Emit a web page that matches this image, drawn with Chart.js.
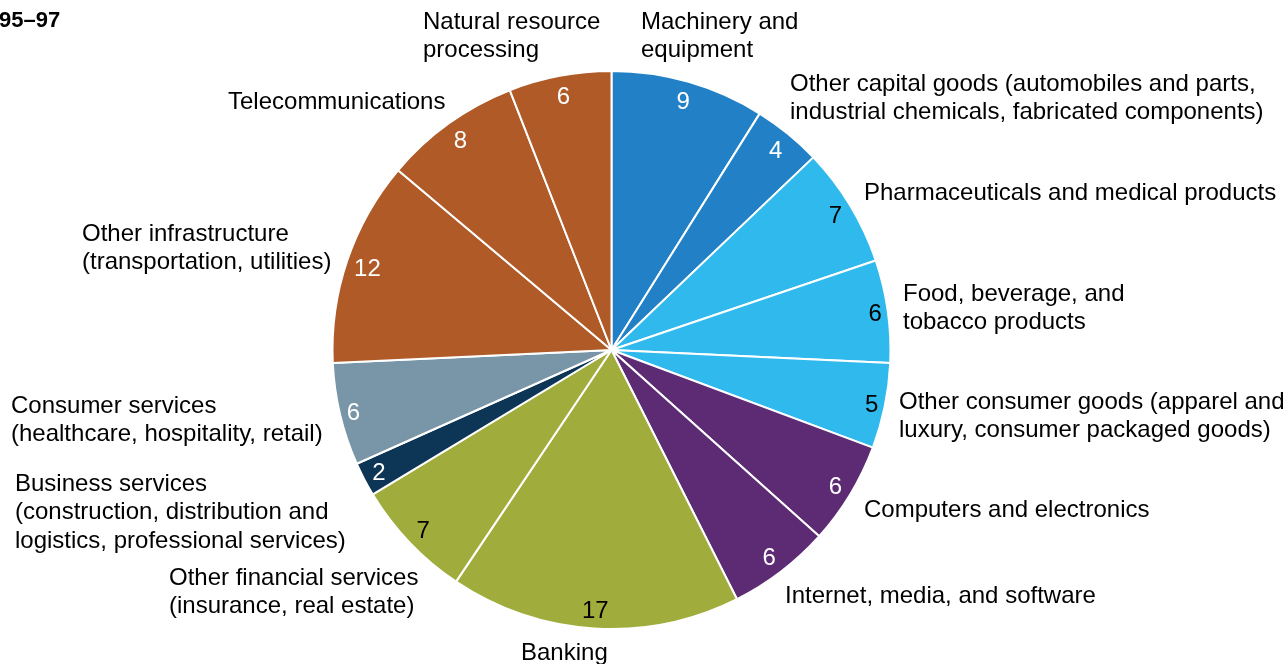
<!DOCTYPE html>
<html>
<head>
<meta charset="utf-8">
<script src="https://cdn.jsdelivr.net/npm/chart.js@4/dist/chart.umd.min.js"></script>
<style>
  html, body { margin: 0; padding: 0; background: #fff; overflow: hidden; }
  #wrap { position: relative; width: 1287px; height: 664px; }
</style>
</head>
<body>
<div id="wrap"><canvas id="pie"></canvas></div>
<script>
// Slices, clockwise from 12 o'clock
const sectors = [
    'Machinery and equipment',
    'Other capital goods (automobiles and parts, industrial chemicals, fabricated components)',
    'Pharmaceuticals and medical products',
    'Food, beverage, and tobacco products',
    'Other consumer goods (apparel and luxury, consumer packaged goods)',
    'Computers and electronics',
    'Internet, media, and software',
    'Banking',
    'Other financial services (insurance, real estate)',
    'Business services (construction, distribution and logistics, professional services)',
    'Consumer services (healthcare, hospitality, retail)',
    'Other infrastructure (transportation, utilities)',
    'Telecommunications',
    'Natural resource processing'
];
const shares = [9, 4, 7, 6, 5, 6, 6, 17, 7, 2, 6, 12, 8, 6];
const title = '95\u201397';

// Line breaks for the outer labels, as printed
const labelLines = [
    ['Machinery and', 'equipment'],
    ['Other capital goods (automobiles and parts,', 'industrial chemicals, fabricated components)'],
    ['Pharmaceuticals and medical products'],
    ['Food, beverage, and', 'tobacco products'],
    ['Other consumer goods (apparel and', 'luxury, consumer packaged goods)'],
    ['Computers and electronics'],
    ['Internet, media, and software'],
    ['Banking'],
    ['Other financial services', '(insurance, real estate)'],
    ['Business services', '(construction, distribution and', 'logistics, professional services)'],
    ['Consumer services', '(healthcare, hospitality, retail)'],
    ['Other infrastructure', '(transportation, utilities)'],
    ['Telecommunications'],
    ['Natural resource', 'processing']
];

// Layout: left x and first-line middle y of each outer label block
const labelPos = [
    [641, 22], [790, 84], [864, 193], [903, 294], [899, 402], [864, 510], [785, 596],
    [521, 653], [169, 578], [15, 484], [11, 406], [82, 234], [228, 102], [423, 22]
];

const BLUE = '#2180c6', SKY = '#2fb9ec', PURPLE = '#5d2a74', OLIVE = '#a0ad3c',
      NAVY = '#0d3556', SLATE = '#7896a8', RUST = '#af5a27';
const colors = [BLUE, BLUE, SKY, SKY, SKY, PURPLE, PURPLE, OLIVE, OLIVE, NAVY, SLATE, RUST, RUST, RUST];
const valueColors = ['#fff', '#fff', '#000', '#000', '#000', '#fff', '#fff', '#000', '#000', '#fff', '#fff', '#fff', '#fff', '#fff'];

const FONT = 'Arial, "Liberation Sans", sans-serif';

const labelPlugin = {
    id: 'sliceLabels',
    afterDatasetsDraw(chart) {
        const ctx = chart.ctx;
        const arcs = chart.getDatasetMeta(0).data;
        ctx.save();
        ctx.font = '24px ' + FONT;
        ctx.textAlign = 'center';
        ctx.textBaseline = 'middle';
        arcs.forEach((arc, i) => {
            const p = arc.getProps(['x', 'y', 'startAngle', 'endAngle', 'outerRadius'], true);
            const mid = (p.startAngle + p.endAngle) / 2;
            const txt = String(shares[i]);
            const dx = Math.cos(mid), dy = Math.sin(mid);
            // "inside end": pull the label box in until it touches the rim
            const w = ctx.measureText(txt).width;
            const r = p.outerRadius - 4 - (Math.abs(dx) * w / 2 + Math.abs(dy) * 14.5);
            ctx.fillStyle = valueColors[i];
            // +2 so the digits sit visually centred on the point
            ctx.fillText(txt, p.x + dx * r, p.y + dy * r + 2);
        });

        // outer category labels
        ctx.textAlign = 'left';
        ctx.fillStyle = '#000';
        labelLines.forEach((lines, i) => {
            const [lx, ly] = labelPos[i];
            lines.forEach((ln, k) => ctx.fillText(ln, lx, ly + k * 28.5));
        });

        // cropped heading
        ctx.font = 'bold 22px ' + FONT;
        ctx.fillText(title, -1, 21);
        ctx.restore();
    }
};

new Chart(document.getElementById('pie'), {
    type: 'pie',
    data: {
        labels: sectors,
        datasets: [{
            data: shares,
            backgroundColor: colors,
            borderColor: '#fff',
            borderWidth: 2
        }]
    },
    options: {
        responsive: true,
        maintainAspectRatio: false,
        animation: false,
        layout: { padding: { left: 331, right: 395, top: 70, bottom: 34 } },
        plugins: {
            legend: { display: false },
            tooltip: { enabled: false }
        }
    },
    plugins: [labelPlugin]
});
</script>
</body>
</html>
